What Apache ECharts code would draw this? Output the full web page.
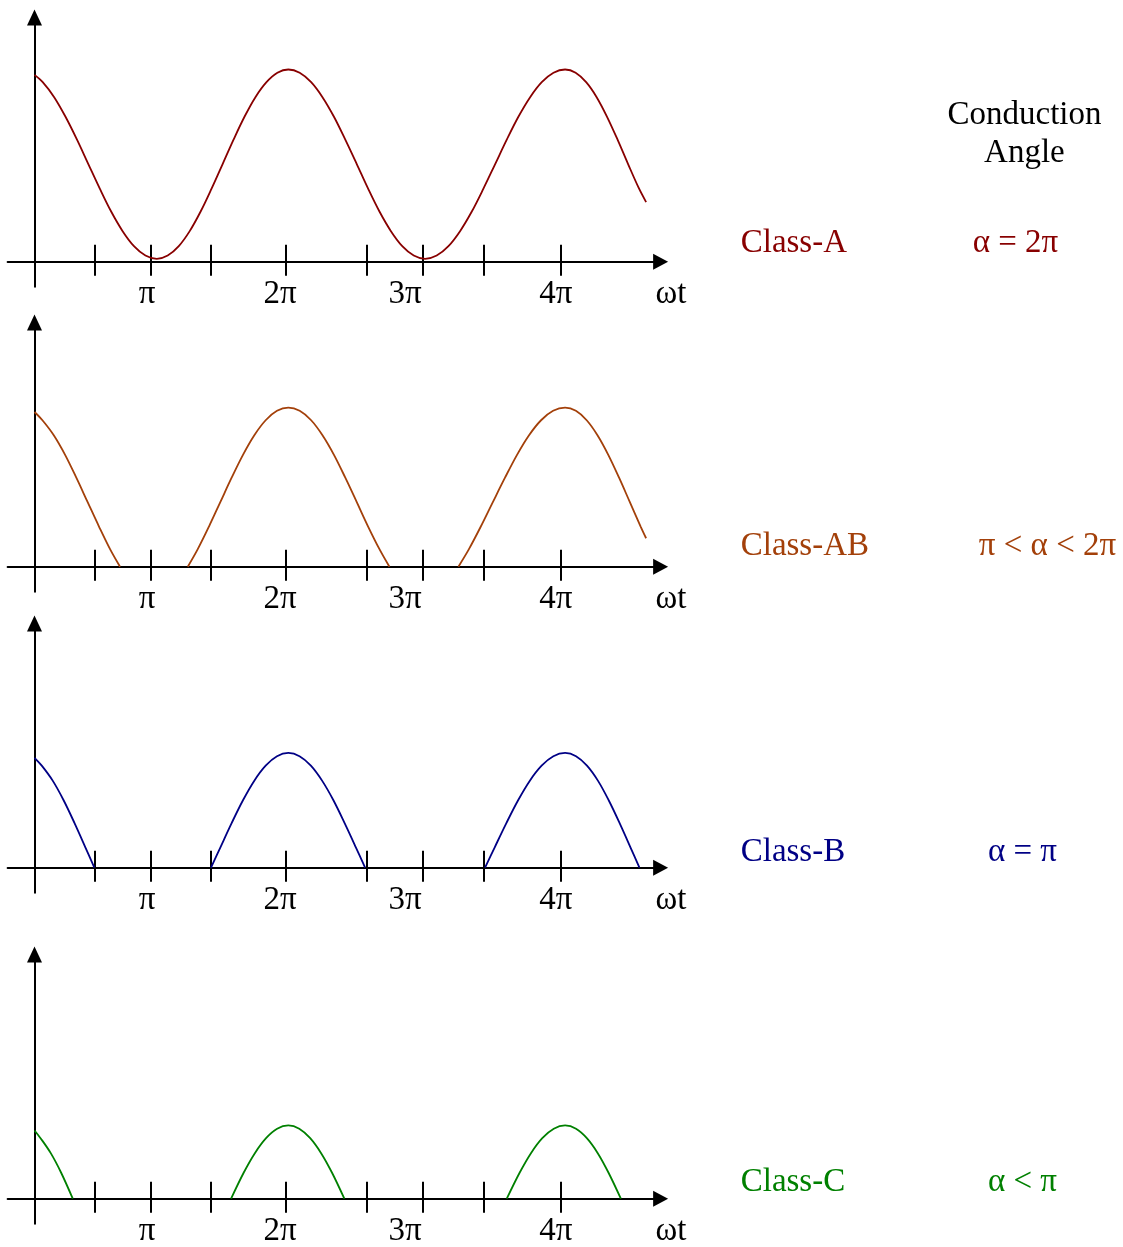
<!DOCTYPE html>
<html>
<head>
<meta charset="utf-8">
<title>Amplifier conduction angles</title>
<script src="https://cdn.jsdelivr.net/npm/echarts@6/dist/echarts.min.js"></script>
<style>
  html, body { margin: 0; padding: 0; background: #ffffff; }
  #chart { width: 1123px; height: 1247px; }
</style>
</head>
<body>
<div id="chart"></div>
<script>
// ωt is expressed in multiples of π; amplitude is normalised to the Class-A peak.
const tickPositions = [0.585, 1.0, 1.439, 1.986, 2.579, 2.989, 3.438, 4.0];
const tickLabelPositions = [0.971, 1.944, 2.859, 3.963];
const tickLabels = ['π', '2π', '3π', '4π'];

const classA = [
  [0.147, 0.972], [0.207, 0.934], [0.291, 0.856], [0.374, 0.754], [0.458, 0.635], [0.541, 0.508],
  [0.625, 0.380], [0.708, 0.261], [0.792, 0.159], [0.875, 0.081], [0.959, 0.032], [1.042, 0.015],
  [1.122, 0.032], [1.203, 0.081], [1.283, 0.159], [1.363, 0.261], [1.443, 0.380], [1.524, 0.508],
  [1.604, 0.635], [1.684, 0.754], [1.764, 0.856], [1.845, 0.934], [1.925, 0.983], [2.005, 1.0],
  [2.088, 0.983], [2.172, 0.934], [2.255, 0.856], [2.339, 0.754], [2.422, 0.635], [2.506, 0.508],
  [2.589, 0.380], [2.672, 0.261], [2.756, 0.159], [2.839, 0.081], [2.923, 0.032], [3.006, 0.015],
  [3.091, 0.032], [3.177, 0.081], [3.262, 0.159], [3.348, 0.261], [3.433, 0.380], [3.519, 0.508],
  [3.604, 0.635], [3.689, 0.754], [3.775, 0.856], [3.860, 0.934], [3.946, 0.983], [4.031, 1.0],
  [4.108, 0.983], [4.185, 0.934], [4.262, 0.856], [4.338, 0.754], [4.415, 0.635], [4.492, 0.508],
  [4.569, 0.385], [4.624, 0.310]
];

const classAB1 = [[0.147, 0.805], [0.205, 0.762], [0.288, 0.684], [0.371, 0.582], [0.453, 0.463],
  [0.536, 0.336], [0.619, 0.209], [0.701, 0.090], [0.773, 0]];
const classAB2 = [[1.269, 0], [1.341, 0.090], [1.424, 0.209], [1.507, 0.336], [1.590, 0.463], [1.673, 0.582],
  [1.756, 0.684], [1.839, 0.762], [1.922, 0.811], [2.005, 0.828], [2.088, 0.811], [2.172, 0.762],
  [2.255, 0.684], [2.339, 0.582], [2.422, 0.463], [2.506, 0.336], [2.589, 0.209], [2.673, 0.090], [2.745, 0]];
const classAB3 = [[3.250, 0], [3.326, 0.090], [3.414, 0.209], [3.502, 0.336], [3.591, 0.463], [3.679, 0.582],
  [3.767, 0.684], [3.855, 0.762], [3.943, 0.811], [4.031, 0.828], [4.110, 0.811], [4.189, 0.762],
  [4.268, 0.684], [4.347, 0.582], [4.426, 0.463], [4.505, 0.336], [4.584, 0.209], [4.624, 0.148]];

const classB1 = [[0.147, 0.572], [0.200, 0.531], [0.280, 0.453], [0.360, 0.351], [0.440, 0.232],
  [0.520, 0.105], [0.585, 0]];
const classB2 = [[1.439, 0], [1.507, 0.105], [1.590, 0.232], [1.673, 0.351], [1.756, 0.453], [1.839, 0.531],
  [1.922, 0.580], [2.005, 0.597], [2.087, 0.580], [2.170, 0.531], [2.252, 0.453], [2.335, 0.351],
  [2.417, 0.232], [2.500, 0.105], [2.567, 0]];
const classB3 = [[3.445, 0], [3.515, 0.105], [3.601, 0.232], [3.687, 0.351], [3.773, 0.453], [3.859, 0.531],
  [3.945, 0.580], [4.031, 0.597], [4.111, 0.580], [4.191, 0.531], [4.271, 0.453], [4.350, 0.351],
  [4.430, 0.232], [4.510, 0.105], [4.575, 0]];

const classC1 = [[0.147, 0.355], [0.191, 0.315], [0.266, 0.237], [0.342, 0.135], [0.427, 0]];
const classC2 = [[1.586, 0], [1.678, 0.135], [1.760, 0.237], [1.842, 0.315], [1.923, 0.364], [2.005, 0.381],
  [2.085, 0.364], [2.165, 0.315], [2.245, 0.237], [2.325, 0.135], [2.415, 0]];
const classC3 = [[3.604, 0], [3.698, 0.135], [3.781, 0.237], [3.864, 0.315], [3.948, 0.364], [4.031, 0.381],
  [4.111, 0.364], [4.190, 0.315], [4.270, 0.237], [4.349, 0.135], [4.439, 0]];

const classNames = ['Class-A', 'Class-AB', 'Class-B', 'Class-C'];
const conductionAngles = ['α = 2π', 'π < α < 2π', 'α = π', 'α < π'];
const classColors = ['#880000', '#A3400A', '#000085', '#008000'];
const classCurves = [
  [classA],
  [classAB1, classAB2, classAB3],
  [classB1, classB2, classB3],
  [classC1, classC2, classC3]
];

// Layout of the four stacked panels (pixel positions of each horizontal axis).
const axisLineY = [261.7, 566.7, 867.7, 1198.7];
const angleTextX = [1015.5, 1047.5, 1022.5, 1022.5];
const textBaselineY = [253, 556.7, 862.7, 1192.7];
const PX_PER_UNIT = 192.2;
const Y_MIN = -0.13, Y_MAX = 1.27;
const X_MIN = -0.05, X_MAX = 4.73;
const FONT = '"Liberation Serif", "Times New Roman", Times, serif';
const FONT_SIZE = 33;

const grids = [], xAxes = [], yAxes = [], series = [], graphics = [];

function tickLabelFormatter(value) {
  const idx = tickLabelPositions.findIndex(p => Math.abs(p - value) < 1e-6);
  return idx >= 0 ? tickLabels[idx] : '';
}

axisLineY.forEach((ay, i) => {
  grids.push({
    left: 7.6,
    width: 653,
    top: ay - Y_MAX * PX_PER_UNIT,
    height: (Y_MAX - Y_MIN) * PX_PER_UNIT,
    outerBoundsMode: 'none',
    containLabel: false
  });

  yAxes.push({
    type: 'value', gridIndex: i, min: Y_MIN, max: Y_MAX,
    position: 'left', offset: -26.9,
    axisLine: {
      show: true, onZero: false,
      symbol: ['none', 'triangle'], symbolSize: [15, 16],
      lineStyle: { color: '#000', width: 2 }
    },
    axisTick: { show: false },
    axisLabel: { show: false },
    splitLine: { show: false }
  });

  // main horizontal axis: line, arrow, lower half of the ticks, labels
  xAxes.push({
    type: 'value', gridIndex: i, min: X_MIN, max: X_MAX, position: 'bottom',
    name: 'ωt', nameLocation: 'end', nameGap: 10.3,
    nameTextStyle: {
      fontFamily: FONT, fontSize: FONT_SIZE, color: '#000',
      align: 'center', verticalAlign: 'top', padding: [16, 0, 0, 0]
    },
    axisLine: {
      show: true, onZero: true, onZeroAxisIndex: i,
      symbol: ['none', 'triangle'], symbolSize: [16, 15],
      lineStyle: { color: '#000', width: 2 }
    },
    axisTick: {
      show: true, customValues: tickPositions, length: 14,
      lineStyle: { color: '#000', width: 2 }
    },
    axisLabel: {
      show: true, customValues: tickLabelPositions, formatter: tickLabelFormatter,
      margin: -9, fontFamily: FONT, fontSize: FONT_SIZE, color: '#000'
    },
    splitLine: { show: false }
  });

  // companion axis: upper half of the ticks
  xAxes.push({
    type: 'value', gridIndex: i, min: X_MIN, max: X_MAX, position: 'bottom',
    axisLine: { show: false, onZero: true, onZeroAxisIndex: i },
    axisTick: {
      show: true, inside: true, customValues: tickPositions, length: 17,
      lineStyle: { color: '#000', width: 2 }
    },
    axisLabel: { show: false },
    splitLine: { show: false }
  });

  classCurves[i].forEach(seg => {
    series.push({
      type: 'line', xAxisIndex: 2 * i, yAxisIndex: i,
      data: seg, smooth: 0.35, showSymbol: false, symbol: 'none',
      lineStyle: { color: classColors[i], width: 1.8 },
      itemStyle: { color: classColors[i] },
      silent: true
    });
  });

  graphics.push({
    type: 'text', x: 740.7, y: textBaselineY[i] - 10,
    style: { text: classNames[i], fill: classColors[i], font: FONT_SIZE + 'px ' + FONT, align: 'left', verticalAlign: 'middle' }
  });
  graphics.push({
    type: 'text', x: angleTextX[i], y: textBaselineY[i] - 10,
    style: { text: conductionAngles[i], fill: classColors[i], font: FONT_SIZE + 'px ' + FONT, align: 'center', verticalAlign: 'middle' }
  });
});

graphics.push({
  type: 'text', x: 1024.5, y: 115.7,
  style: { text: 'Conduction', fill: '#000', font: FONT_SIZE + 'px ' + FONT, align: 'center', verticalAlign: 'middle' }
});
graphics.push({
  type: 'text', x: 1024.4, y: 153,
  style: { text: 'Angle', fill: '#000', font: FONT_SIZE + 'px ' + FONT, align: 'center', verticalAlign: 'middle' }
});

const chart = echarts.init(document.getElementById('chart'), null, { renderer: 'canvas' });
chart.setOption({
  animation: false,
  backgroundColor: '#ffffff',
  grid: grids,
  xAxis: xAxes,
  yAxis: yAxes,
  series: series,
  graphic: graphics
});
</script>
</body>
</html>
